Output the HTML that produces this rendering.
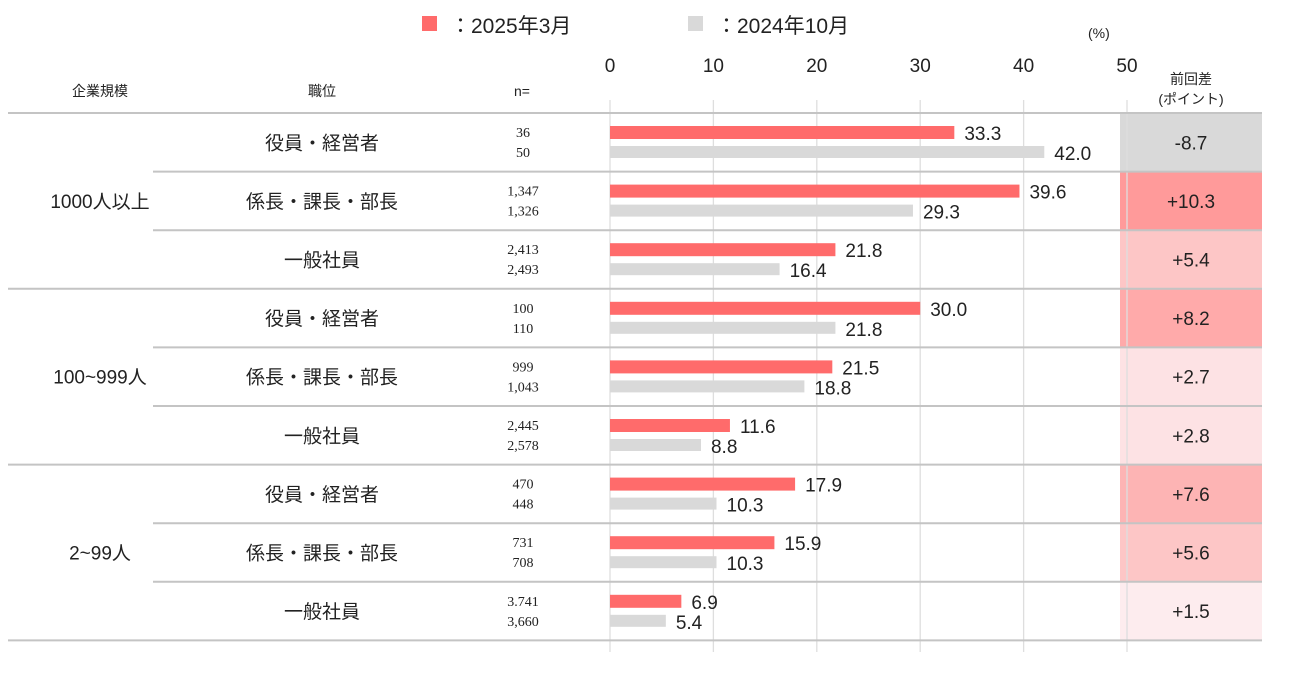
<!DOCTYPE html>
<html><head><meta charset="utf-8">
<style>
body{margin:0;background:#fff;font-family:"Liberation Sans","Noto Sans CJK JP",sans-serif;}
svg text{font-family:"Liberation Sans","Noto Sans CJK JP",sans-serif;fill:#222;}
</style></head>
<body>
<svg id="chart" width="1300" height="684" viewBox="0 0 1300 684" xmlns="http://www.w3.org/2000/svg">
<g id="legend">
 <rect x="422" y="16" width="15" height="15" fill="#ff6b6b"/>
 <text x="450" y="33" font-size="21">：2025年3月</text>
 <rect x="688" y="16" width="15" height="15" fill="#d9d9d9"/>
 <text x="716" y="33" font-size="21">：2024年10月</text>
</g>
<text x="1088" y="38" font-size="14">(%)</text>
<text x="100" y="96" font-size="14" text-anchor="middle">企業規模</text>
<text x="322" y="96" font-size="14" text-anchor="middle">職位</text>
<text x="522" y="96" font-size="14" text-anchor="middle">n=</text>
<text x="1191" y="84" font-size="14" text-anchor="middle">前回差</text>
<text x="1191" y="104" font-size="14" text-anchor="middle">(ポイント)</text>
<g id="cells"></g>
<g id="grid"></g>
<g id="rows"></g>
<g id="bars"></g>
</svg>
<script>
const ticks=[0,10,20,30,40,50];
const groups=["1000人以上","100~999人","2~99人"];
const positions=["役員・経営者","係長・課長・部長","一般社員","役員・経営者","係長・課長・部長","一般社員","役員・経営者","係長・課長・部長","一般社員"];
const n2025=["36","1,347","2,413","100","999","2,445","470","731","3.741"];
const n2024=["50","1,326","2,493","110","1,043","2,578","448","708","3,660"];
const values2025=[33.3,39.6,21.8,30.0,21.5,11.6,17.9,15.9,6.9];
const values2024=[42.0,29.3,16.4,21.8,18.8,8.8,10.3,10.3,5.4];
const diffs=["-8.7","+10.3","+5.4","+8.2","+2.7","+2.8","+7.6","+5.6","+1.5"];
const NS="http://www.w3.org/2000/svg";
const X0=610,X1=1127,TOP=113,RH=58.6;
const x=v=>X0+(v/50)*(X1-X0);
function mk(tag,attrs,parent,txt){const e=document.createElementNS(NS,tag);for(const k in attrs)e.setAttribute(k,attrs[k]);if(txt!==undefined)e.textContent=txt;parent.appendChild(e);return e;}
const gCells=document.getElementById('cells'),gGrid=document.getElementById('grid'),gRows=document.getElementById('rows'),gBars=document.getElementById('bars');
function cellColor(d){const v=parseFloat(d);if(v<0)return "#d9d9d9";if(v>=10)return "#ff9a9a";if(v>=8)return "#ffaaaa";if(v>=7)return "#fdb4b4";if(v>=5)return "#fdc6c6";if(v>=2)return "#fde2e4";return "#fdecee";}
diffs.forEach((d,i)=>{const y=TOP+i*RH;
 const r=mk('rect',{x:1120,y:y,width:142,height:RH,fill:cellColor(d)},gCells);
 
 
 const t=mk('text',{x:1191,y:y+RH/2+7,'font-size':19,'text-anchor':'middle'},gCells,d);
 
 
});
ticks.forEach(v=>{
 const l=mk('line',{x1:x(v),x2:x(v),y1:100,y2:652,stroke:'#dedede','stroke-width':1.3},gGrid);
 
 
 const t=mk('text',{x:x(v),y:72,'font-size':19,'text-anchor':'middle'},gGrid,String(v));
 
 
});
for(let i=0;i<=9;i++){const y=TOP+i*RH;const full=i%3===0;
 const l=mk('line',{x1:full?8:153,x2:1262,y1:y,y2:y,stroke:'#c4c4c4','stroke-width':2},gRows);
 
 }
groups.forEach((g,i)=>{const t=mk('text',{x:100,y:TOP+(i*3+1.5)*RH+7,'font-size':19,'text-anchor':'middle'},gRows,g);
 
 });
positions.forEach((p,i)=>{const y=TOP+i*RH;
 const t=mk('text',{x:322,y:y+RH/2+7,'font-size':19,'text-anchor':'middle'},gRows,p);
 
 
 const a=mk('text',{x:523,y:y+24,'font-size':14,'text-anchor':'middle',style:'font-family:"Liberation Serif","Noto Serif CJK SC",serif'},gRows,n2025[i]);
 
 
 const b=mk('text',{x:523,y:y+44,'font-size':14,'text-anchor':'middle',style:'font-family:"Liberation Serif","Noto Serif CJK SC",serif'},gRows,n2024[i]);
 
 
});
values2025.forEach((v,i)=>{const y=TOP+i*RH;
 const r=mk('rect',{x:X0,y:y+13,width:x(v)-X0,height:13,fill:'#ff6b6b'},gBars);
 
 
 const t=mk('text',{x:x(v)+10,y:y+27,'font-size':19},gBars,v.toFixed(1));
 
 
});
values2024.forEach((v,i)=>{const y=TOP+i*RH;
 const r=mk('rect',{x:X0,y:y+33,width:x(v)-X0,height:12,fill:'#d9d9d9'},gBars);
 
 
 const t=mk('text',{x:x(v)+10,y:y+47,'font-size':19},gBars,v.toFixed(1));
 
 
});
</script>
</body></html>
